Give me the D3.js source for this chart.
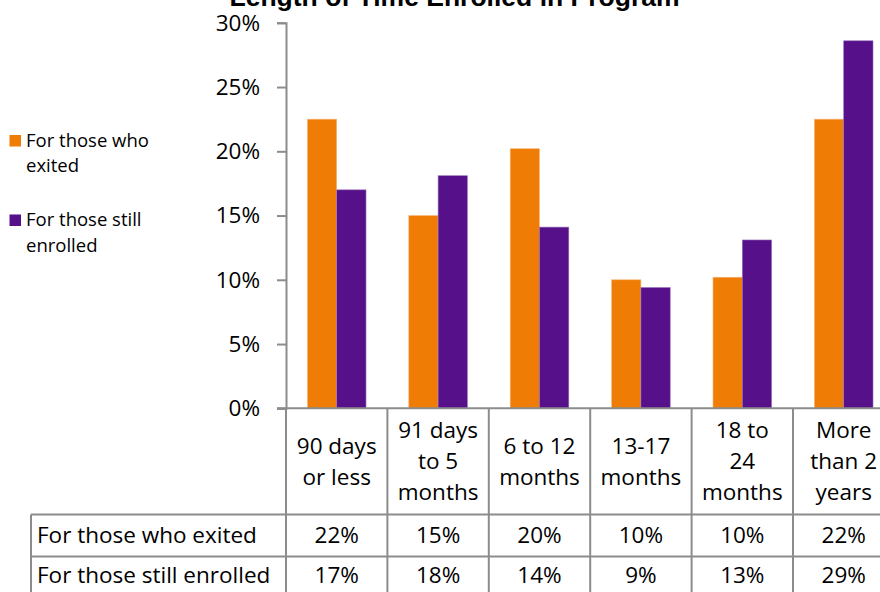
<!DOCTYPE html>
<html>
<head>
<meta charset="utf-8">
<script src="https://cdn.jsdelivr.net/npm/d3@7"></script>
<style>
  html, body { margin: 0; padding: 0; background: #fff; }
  svg { display: block; }
</style>
</head>
<body>
<svg id="chart" width="880" height="592"></svg>
<script>
const title = "Length of Time Enrolled in Program";
const categories = [
  ["90 days", "or less"],
  ["91 days", "to 5", "months"],
  ["6 to 12", "months"],
  ["13-17", "months"],
  ["18 to", "24", "months"],
  ["More", "than 2", "years"]
];
const seriesNames = ["For those who exited", "For those still enrolled"];
const legendLines = [["For those who", "exited"], ["For those still", "enrolled"]];
const exitedValues = [22.5, 15.0, 20.2, 10.0, 10.2, 22.5];
const enrolledValues = [17.0, 18.1, 14.1, 9.4, 13.1, 28.6];
const exitedLabels = ["22%", "15%", "20%", "10%", "10%", "22%"];
const enrolledLabels = ["17%", "18%", "14%", "9%", "13%", "29%"];
const yTicks = [0, 5, 10, 15, 20, 25, 30];
const colors = ["#ef7d05", "#561089"];

const FONT = "'Open Sans', 'Noto Sans', sans-serif";
const FS = 22.5;
const svg = d3.select("#chart");

const plotLeft = 286, plotRight = 894.4, plotTop = 22.8, plotBottom = 408.3;
const x = d3.scaleBand().domain(d3.range(categories.length)).range([plotLeft, plotRight]).paddingInner(0).paddingOuter(0);
const inner = d3.scaleBand().domain([0, 1]).range([0, x.bandwidth()]).paddingInner(0).paddingOuter(0.73);
const y = d3.scaleLinear().domain([0, 30]).range([plotBottom, plotTop]);

const gridColor = "#8c8c8c";

// title
svg.append("text").attr("x", 454.5).attr("y", 5.5).attr("text-anchor", "middle")
  .attr("font-family", "'Liberation Sans', Arial, sans-serif").attr("font-weight", "bold")
  .attr("font-size", 26.5).attr("fill", "#000").text(title);

// bars
const series = [exitedValues, enrolledValues];
series.forEach((vals, si) => {
  svg.append("g").selectAll("rect").data(vals).join("rect")
    .attr("x", (d, i) => x(i) + inner(si))
    .attr("y", d => y(d))
    .attr("width", inner.bandwidth())
    .attr("height", d => y(0) - y(d))
    .attr("fill", colors[si])
    .attr("stroke", si === 0 ? "#f7b77a" : "#9a72b8")
    .attr("stroke-width", 0.6);
});

// y axis
const yAxis = d3.axisLeft(y).tickValues(yTicks).tickFormat(d => d + "%").tickSize(9).tickPadding(17);
const ga = svg.append("g").attr("transform", `translate(${plotLeft},0)`).call(yAxis);
ga.select(".domain").attr("stroke", gridColor).attr("stroke-width", 2);
ga.selectAll(".tick line").attr("stroke", gridColor).attr("stroke-width", 2);
ga.selectAll(".tick text").attr("font-family", FONT).attr("font-size", FS).attr("fill", "#000");

// baseline
svg.append("line").attr("x1", plotLeft - 9).attr("x2", plotRight).attr("y1", y(0)).attr("y2", y(0))
  .attr("stroke", gridColor).attr("stroke-width", 2);

// table
const headerBottom = 514.5, row1Bottom = 556.5, row2Bottom = 598.5;
const tableLeft = 31;
const tbl = svg.append("g");
d3.range(categories.length + 1).forEach(i => {
  const xx = i < categories.length ? x(i) : plotRight;
  tbl.append("line").attr("x1", xx).attr("x2", xx).attr("y1", y(0)).attr("y2", row2Bottom)
    .attr("stroke", gridColor).attr("stroke-width", 2);
});
[headerBottom, row1Bottom, row2Bottom].forEach(yy => {
  tbl.append("line").attr("x1", tableLeft).attr("x2", plotRight).attr("y1", yy).attr("y2", yy)
    .attr("stroke", gridColor).attr("stroke-width", 2);
});
tbl.append("line").attr("x1", tableLeft).attr("x2", tableLeft).attr("y1", headerBottom).attr("y2", row2Bottom)
  .attr("stroke", gridColor).attr("stroke-width", 2);

// category labels
const lineH = 31;
categories.forEach((lines, i) => {
  const cx = x(i) + x.bandwidth() / 2;
  const cy = (y(0) + headerBottom) / 2;
  const t = tbl.append("text").attr("text-anchor", "middle").attr("font-family", FONT)
    .attr("font-size", FS).attr("fill", "#000");
  lines.forEach((ln, k) => {
    t.append("tspan").attr("x", cx)
      .attr("y", cy + (k - (lines.length - 1) / 2) * lineH)
      .attr("dy", "0.35em").text(ln);
  });
});

// row labels and values
const rows = [[exitedLabels, (headerBottom + row1Bottom) / 2], [enrolledLabels, (row1Bottom + row2Bottom) / 2 - 2]];
rows.forEach(([labels, cy], r) => {
  tbl.append("text").attr("x", tableLeft + 6).attr("y", cy).attr("dy", "0.35em")
    .attr("font-family", FONT).attr("font-size", FS).attr("fill", "#000").text(seriesNames[r]);
  labels.forEach((lab, i) => {
    tbl.append("text").attr("x", x(i) + x.bandwidth() / 2).attr("y", cy).attr("dy", "0.35em")
      .attr("text-anchor", "middle").attr("font-family", FONT).attr("font-size", FS)
      .attr("fill", "#000").text(lab);
  });
});

// legend
const legendTops = [135, 214.5];
legendLines.forEach((lines, i) => {
  const g = svg.append("g");
  g.append("rect").attr("x", 9.5).attr("y", legendTops[i]).attr("width", 11.5).attr("height", 11.5)
    .attr("fill", colors[i]);
  lines.forEach((ln, k) => {
    g.append("text").attr("x", 26).attr("y", legendTops[i] + 11.7 + k * 25.7)
      .attr("font-family", FONT).attr("font-size", 18.5).attr("fill", "#000").text(ln);
  });
});
</script>
</body>
</html>
